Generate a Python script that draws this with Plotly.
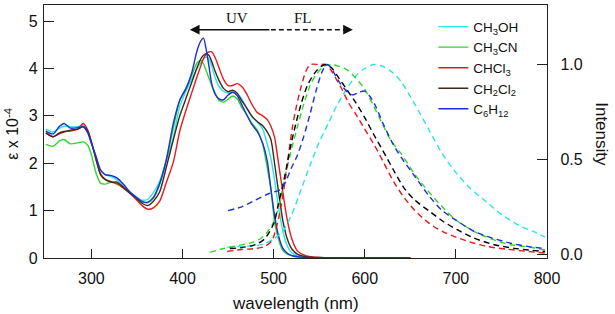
import plotly.graph_objects as go

# ---------------- data ----------------
solvents = ["CH<sub>3</sub>OH", "CH<sub>3</sub>CN", "CHCl<sub>3</sub>", "CH<sub>2</sub>Cl<sub>2</sub>", "C<sub>6</sub>H<sub>12</sub>"]
abs_colors = ["#2ee3e6", "#2fd62f", "#e41a1c", "#3d2b1f", "#1f2fd6"]
em_colors = ["#2ee3e6", "#2fd62f", "#e41a1c", "#000000", "#1f2fd6"]

# absorption (epsilon x 1e-4), common wavelength grid (nm)
abs_wl = [250, 258, 265, 270, 277, 285, 291, 296, 300, 305, 310, 315, 322, 328, 335, 343, 350, 356, 362,
          368, 375, 382, 390, 397, 404, 410, 416, 420, 423, 426, 429, 432, 436, 440, 445, 450, 455, 460,
          465, 470, 476, 482, 488, 493, 497, 501, 505, 510, 515, 520, 526, 535, 550, 600, 650]

abs_ch3oh = [2.72, 2.66, 2.74, 2.78, 2.77, 2.77, 2.80, 2.66, 2.42, 2.15, 1.86, 1.76, 1.72, 1.65, 1.52, 1.38, 1.28, 1.22, 1.24,
             1.38, 1.62, 2.05, 2.55, 3.20, 3.53, 3.77, 4.00, 4.12, 4.20, 4.24, 4.20, 4.05, 3.80, 3.62, 3.52, 3.48, 3.50, 3.47,
             3.36, 3.18, 2.98, 2.87, 2.72, 2.40, 2.10, 1.65, 1.12, 0.58, 0.25, 0.11, 0.05, 0.02, 0.0, 0.0, 0.0]
abs_ch3cn = [2.40, 2.36, 2.47, 2.50, 2.41, 2.43, 2.45, 2.38, 2.18, 1.80, 1.58, 1.56, 1.60, 1.56, 1.48, 1.36, 1.25, 1.18, 1.17,
             1.26, 1.55, 2.05, 2.75, 3.33, 3.60, 3.85, 4.12, 4.17, 4.10, 3.95, 3.80, 3.64, 3.48, 3.33, 3.29, 3.35, 3.42, 3.36,
             3.18, 3.04, 2.85, 2.70, 2.40, 1.90, 1.45, 0.78, 0.42, 0.16, 0.08, 0.05, 0.02, 0.01, 0.0, 0.0, 0.0]
abs_chcl3 = [2.64, 2.56, 2.62, 2.66, 2.68, 2.72, 2.84, 2.70, 2.45, 2.08, 1.78, 1.66, 1.61, 1.57, 1.48, 1.35, 1.22, 1.10, 1.03,
             1.06, 1.20, 1.58, 2.03, 2.68, 3.13, 3.48, 3.83, 4.05, 4.21, 4.30, 4.35, 4.35, 4.22, 4.02, 3.77, 3.64, 3.64, 3.68,
             3.62, 3.48, 3.25, 3.07, 3.00, 2.92, 2.78, 2.55, 2.05, 1.40, 0.80, 0.40, 0.15, 0.05, 0.01, 0.0, 0.0]
abs_ch2cl2 = [2.64, 2.56, 2.64, 2.67, 2.70, 2.72, 2.77, 2.68, 2.45, 2.10, 1.76, 1.66, 1.60, 1.60, 1.50, 1.36, 1.25, 1.15, 1.11,
              1.20, 1.40, 1.90, 2.50, 3.00, 3.38, 3.70, 4.02, 4.20, 4.28, 4.31, 4.28, 4.15, 3.93, 3.75, 3.58, 3.51, 3.54, 3.48,
              3.32, 3.18, 3.00, 2.88, 2.79, 2.66, 2.50, 2.00, 1.45, 0.80, 0.40, 0.19, 0.08, 0.03, 0.01, 0.0, 0.0]
abs_c6h12 = [2.68, 2.62, 2.78, 2.84, 2.74, 2.75, 2.77, 2.64, 2.42, 2.15, 1.86, 1.76, 1.74, 1.69, 1.56, 1.38, 1.27, 1.19, 1.18,
             1.28, 1.58, 2.05, 2.85, 3.33, 3.58, 3.90, 4.38, 4.58, 4.64, 4.40, 4.05, 3.68, 3.45, 3.36, 3.34, 3.44, 3.50, 3.43,
             3.24, 3.04, 2.82, 2.67, 2.42, 2.05, 1.46, 0.90, 0.50, 0.21, 0.10, 0.05, 0.03, 0.01, 0.0, 0.0, 0.0]

# normalised fluorescence (right axis)
em_wl_ch3oh = [449, 465, 480, 490, 500, 510, 520, 530, 540, 550, 560, 570, 580, 590, 600, 610, 620, 630, 640, 655,
               670, 685, 700, 715, 730, 750, 770, 785, 798]
em_ch3oh = [0.035, 0.04, 0.045, 0.055, 0.08, 0.12, 0.21, 0.34, 0.47, 0.59, 0.69, 0.79, 0.87, 0.94, 0.98, 1.0, 0.99, 0.96,
            0.91, 0.79, 0.66, 0.53, 0.43, 0.35, 0.29, 0.21, 0.15, 0.12, 0.09]

em_wl_ch3cn = [430, 445, 460, 475, 485, 492, 500, 505, 510, 515, 520, 526, 533, 540, 547, 555, 563, 572, 580, 590, 600,
               610, 620, 630, 640, 655, 670, 685, 700, 720, 740, 760, 780, 798]
em_ch3cn = [0.01, 0.03, 0.045, 0.06, 0.08, 0.11, 0.17, 0.24, 0.35, 0.46, 0.56, 0.67, 0.79, 0.89, 0.95, 0.99, 1.0, 0.99,
            0.975, 0.93, 0.87, 0.78, 0.68, 0.59, 0.53, 0.42, 0.33, 0.25, 0.18, 0.12, 0.078, 0.05, 0.038, 0.023]

em_wl_chcl3 = [449, 465, 480, 490, 498, 503, 508, 513, 517, 521, 525, 530, 535, 540, 550, 558, 563, 568, 575, 582, 590,
               600, 610, 620, 632, 643, 655, 670, 685, 700, 715, 735, 757, 780, 798]
em_chcl3 = [0.015, 0.025, 0.03, 0.04, 0.07, 0.14, 0.25, 0.40, 0.55, 0.68, 0.78, 0.88, 0.96, 1.0, 1.0, 1.0, 0.97, 0.93,
            0.87, 0.80, 0.74, 0.66, 0.58, 0.49, 0.38, 0.30, 0.23, 0.165, 0.12, 0.09, 0.065, 0.04, 0.026, 0.014, 0.006]

em_wl_ch2cl2 = [452, 465, 480, 490, 500, 505, 510, 515, 520, 525, 530, 537, 545, 552, 558, 564, 570, 580, 590, 600, 610,
                620, 632, 643, 655, 670, 687, 702, 720, 742, 764, 780, 798]
em_ch2cl2 = [0.03, 0.035, 0.05, 0.08, 0.16, 0.26, 0.36, 0.48, 0.60, 0.70, 0.79, 0.89, 0.955, 0.99, 1.0, 0.98, 0.94, 0.87,
             0.80, 0.72, 0.63, 0.545, 0.44, 0.35, 0.285, 0.23, 0.17, 0.128, 0.085, 0.05, 0.031, 0.022, 0.014]

em_wl_c6h12 = [450, 465, 480, 495, 507, 513, 519, 526, 533, 540, 547, 553, 558, 562, 567, 573, 580, 587, 594, 600, 606,
               612, 620, 630, 640, 655, 670, 685, 700, 720, 740, 760, 780, 798]
em_c6h12 = [0.23, 0.25, 0.285, 0.32, 0.34, 0.38, 0.45, 0.52, 0.62, 0.74, 0.87, 0.96, 1.0, 0.99, 0.95, 0.90, 0.86, 0.84,
            0.855, 0.86, 0.83, 0.78, 0.69, 0.59, 0.51, 0.41, 0.31, 0.23, 0.18, 0.12, 0.085, 0.058, 0.04, 0.03]

abs_series = [abs_ch3oh, abs_ch3cn, abs_chcl3, abs_ch2cl2, abs_c6h12]
em_series = [(em_wl_ch3oh, em_ch3oh), (em_wl_ch3cn, em_ch3cn), (em_wl_chcl3, em_chcl3),
             (em_wl_ch2cl2, em_ch2cl2), (em_wl_c6h12, em_c6h12)]

x_ticks = [300, 400, 500, 600, 700, 800]
y_ticks = [0, 1, 2, 3, 4, 5]
y2_ticks = [0.0, 0.5, 1.0]

# UV / FL arrow label positions (data units)
arrow_y = 4.82
arrow_left, arrow_mid, arrow_right = 408, 497, 587
uv_label = (460, 5.06)
fl_label = (532, 5.06)

FONT = "Liberation Sans, Arial, Helvetica, sans-serif"
AXC = "#222222"

fig = go.Figure()

for name, col, vals in zip(solvents, abs_colors, abs_series):
    fig.add_trace(go.Scatter(x=abs_wl, y=vals, mode="lines", name=name,
                             line=dict(color=col, width=1.4, shape="spline", smoothing=0.7),
                             yaxis="y"))

for name, col, (wl, vals) in zip(solvents, em_colors, em_series):
    fig.add_trace(go.Scatter(x=wl, y=vals, mode="lines", name=name + " FL", showlegend=False,
                             line=dict(color=col, width=1.4, dash="6px,4px", shape="spline", smoothing=0.7),
                             yaxis="y2"))

# arrow: solid part to the left (UV), dashed part to the right (FL)
fig.add_annotation(x=arrow_left, y=arrow_y, ax=arrow_mid, ay=arrow_y, xref="x", yref="y",
                   axref="x", ayref="y", text="", showarrow=True, arrowhead=2, arrowsize=1.3,
                   arrowwidth=1.5, arrowcolor="#111111")
fig.add_shape(type="line", x0=arrow_mid, x1=arrow_right - 9, y0=arrow_y, y1=arrow_y, xref="x", yref="y",
              line=dict(color="#111111", width=1.5, dash="5px,3px"))
fig.add_annotation(x=arrow_right, y=arrow_y, ax=arrow_right - 9, ay=arrow_y, xref="x", yref="y",
                   axref="x", ayref="y", text="", showarrow=True, arrowhead=2, arrowsize=1.3,
                   arrowwidth=1.5, arrowcolor="#111111")
fig.add_annotation(x=uv_label[0], y=uv_label[1], xref="x", yref="y", text="UV", showarrow=False,
                   font=dict(family="Liberation Serif, Times New Roman, serif", size=15, color="#111111"))
fig.add_annotation(x=fl_label[0], y=fl_label[1], xref="x", yref="y", text="FL", showarrow=False,
                   font=dict(family="Liberation Serif, Times New Roman, serif", size=15, color="#111111"))

# axis titles
fig.add_annotation(x=0.5, y=-0.18, xref="paper", yref="paper", text="wavelength (nm)", showarrow=False,
                   font=dict(family=FONT, size=17, color="#111111"), xanchor="center", yanchor="middle")
fig.add_annotation(x=-0.064, y=0.49, xref="paper", yref="paper", text="ε x 10<sup>-4</sup>", showarrow=False,
                   textangle=-90, xanchor="center", yanchor="middle",
                   font=dict(family=FONT, size=16, color="#111111"))
fig.add_annotation(x=1.109, y=0.49, xref="paper", yref="paper", text="Intensity", showarrow=False,
                   textangle=90, xanchor="center", yanchor="middle",
                   font=dict(family=FONT, size=17, color="#111111"))

fig.update_layout(
    width=615, height=314,
    margin=dict(l=44, r=68, t=5, b=56),
    paper_bgcolor="white", plot_bgcolor="white",
    font=dict(family=FONT, size=16, color="#111111"),
    showlegend=True,
    legend=dict(x=0.774, y=0.975, xanchor="left", yanchor="top", bgcolor="rgba(0,0,0,0)",
                font=dict(family=FONT, size=13.5, color="#111111"), tracegroupgap=0),
    xaxis=dict(range=[248, 800], tickvals=x_ticks, ticks="inside", ticklen=9, tickwidth=1.3,
               tickcolor=AXC, showline=True, linecolor=AXC, linewidth=1.4, mirror=True,
               showgrid=False, zeroline=False, ticklabelstandoff=6),
    yaxis=dict(range=[0, 5.34], tickvals=y_ticks, ticks="inside", ticklen=10, tickwidth=1.3,
               tickcolor=AXC, showline=True, linecolor=AXC, linewidth=1.4,
               showgrid=False, zeroline=False, ticklabelstandoff=2),
    yaxis2=dict(range=[-0.02, 1.314], tickvals=y2_ticks, tickformat=".1f", overlaying="y", side="right",
                ticks="inside", ticklen=10, tickwidth=1.3, tickcolor=AXC, showline=True,
                linecolor=AXC, linewidth=1.4, showgrid=False, zeroline=False, ticklabelstandoff=9),
)

fig.write_html("out.html")
